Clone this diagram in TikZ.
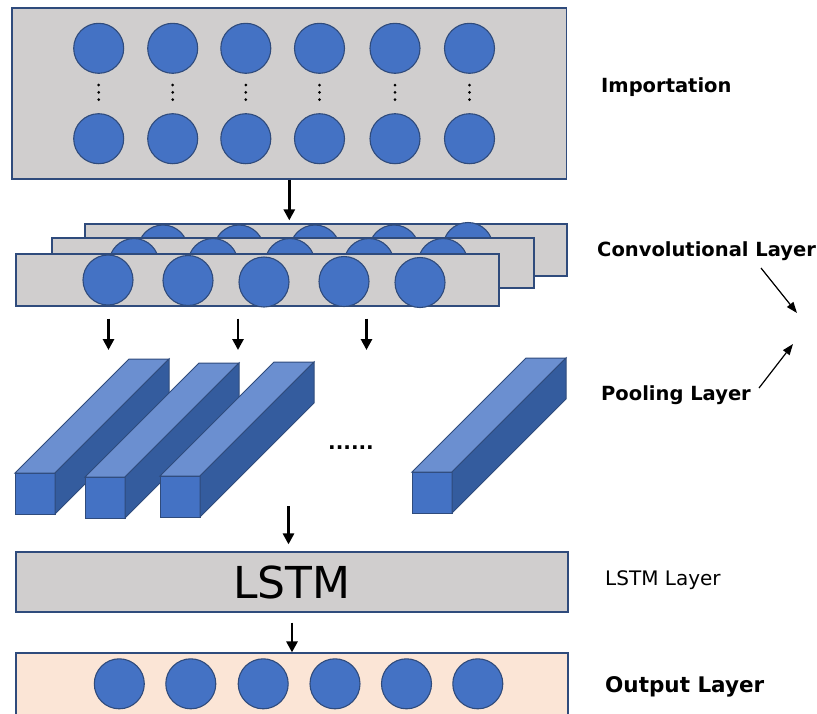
\documentclass[tikz,border=0pt]{standalone}
\usepackage{fontspec}
\newfontfamily\labfont{DejaVu Sans}
\usetikzlibrary{arrows.meta,calc}
\definecolor{boxgray}{HTML}{D0CECE}
\definecolor{edgec}{HTML}{2F4B7C}
\definecolor{nblue}{HTML}{4472C4}
\definecolor{topface}{HTML}{6B8FD0}
\definecolor{sideface}{HTML}{345C9E}
\definecolor{peach}{HTML}{FBE5D6}
\tikzset{
  layerbox/.style={draw=edgec, line width=1.2pt, fill=boxgray, rectangle, inner sep=0pt},
  neuron/.style={circle, draw=edgec, line width=1.1pt, fill=nblue, minimum size=50pt, inner sep=0pt},
  flow/.style={line width=2.8pt, -{Triangle[width=11pt,length=11pt]}},
  thinarrow/.style={line width=1.2pt, -{Triangle[width=8pt,length=11pt]}},
  boldlab/.style={anchor=base west, inner sep=0pt, font=\labfont\bfseries\fontsize{19.5}{22}\selectfont},
  reglab/.style={anchor=base west, inner sep=0pt, font=\labfont\fontsize{20}{24}\selectfont},
  poolbar/.pic={
    \fill[nblue, draw=edgec, line width=1pt] (0,0) rectangle (40,41);
    \fill[topface, draw=edgec, line width=1pt] (0,0) -- (114,-114) -- (154,-114) -- (40,0) -- cycle;
    \fill[sideface, draw=edgec, line width=1pt] (40,0) -- (154,-114) -- (154,-73) -- (40,41) -- cycle;
  }
}
\begin{document}
\begin{tikzpicture}[x=1pt,y=-1pt]
\useasboundingbox (0,0) rectangle (817,713);
\clip (0,0) rectangle (817,713);

% Importation box
\node[layerbox, minimum width=554.7pt, minimum height=171pt] (imp) at (289.3,93.5) {};
\foreach \x [count=\i] in {98.7,172.7,245.8,319.5,395,469.5} {
  \node[neuron] (in\i) at (\x,48.3) {};
  \node[neuron] (ib\i) at (\x,138.7) {};
  \fill[black] (\x,85) circle (1.5) (\x,92.3) circle (1.5) (\x,99.6) circle (1.5);
}

% Convolutional layer (three stacked maps)
\node[layerbox, minimum width=482pt, minimum height=52pt] (conv3) at (326,250) {};
\foreach \x [count=\i] in {163,239,315,394} {\node[neuron] (cc\i) at (\x,250) {};}
\node[neuron] (cc5) at (468,247.5) {};
\node[layerbox, minimum width=482pt, minimum height=50pt] (conv2) at (293,263) {};
\foreach \x [count=\i] in {134,213,290,369,443} {\node[neuron] (cb\i) at (\x,263.5) {};}
\node[layerbox, minimum width=483pt, minimum height=52pt] (conv1) at (257.5,280) {};
\foreach \x/\y [count=\i] in {108/280,188/280.5,264/282,344/281.5,420/282.5} {\node[neuron] (ca\i) at (\x,\y) {};}

% arrow importation -> convolution
\draw[flow, shorten >=3pt] (imp.south) -- (imp.south |- conv3.north);

% arrows convolution -> pooling
\coordinate (t1) at (108.5,350);
\coordinate (t2) at (238,350);
\coordinate (t3) at (366.5,350);
\foreach \t in {t1,t2,t3} {\draw[flow] ([yshift=-12pt]conv1.south -| \t) -- (\t);}

% pooling bars
\pic at (15,473) {poolbar};
\pic at (85,477) {poolbar};
\pic at (160,476) {poolbar};
\pic at (412,472) {poolbar};
\node[anchor=base, inner sep=0pt, font=\labfont\bfseries\fontsize{20}{24}\selectfont] (dots) at (351,449) {......};

% LSTM layer
\node[layerbox, minimum width=552pt, minimum height=60pt, font=\labfont\fontsize{44}{50}\selectfont] (lstm) at (292,582) {LSTM};
\coordinate (pend) at (288.5,506);
\draw[flow, shorten >=7pt] (pend) -- (pend |- lstm.north);

% Output layer
\node[layerbox, fill=peach, minimum width=552pt, minimum height=72pt] (out) at (292,689) {};
\foreach \x [count=\i] in {119.3,190.8,263.2,335,406.5,477.8} {\node[neuron] (o\i) at (\x,683.8) {};}
\draw[flow, shorten <=10pt] (lstm.south) -- (out.north);

% labels
\node[boldlab] (limp) at (601,92.5) {Importation};
\node[boldlab] (lconv) at (597,256.5) {Convolutional Layer};
\node[boldlab] (lpool) at (601,400) {Pooling Layer};
\node[reglab] (llstm) at (605,585) {LSTM Layer};
\node[boldlab, font=\labfont\bfseries\fontsize{21.5}{26}\selectfont] (lout) at (605,692) {Output Layer};

\coordinate (d1a) at (761,268);
\coordinate (d1b) at (797,313);
\coordinate (d2a) at (759,388);
\coordinate (d2b) at (793,344);
\draw[thinarrow] (d1a) -- (d1b);
\draw[thinarrow] (d2a) -- (d2b);
\end{tikzpicture}
\end{document}
